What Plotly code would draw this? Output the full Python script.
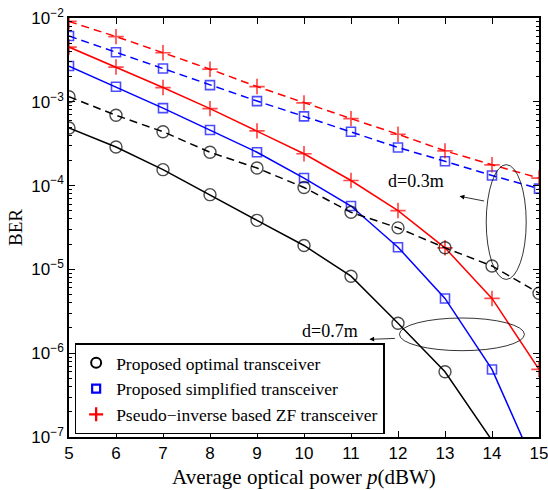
import plotly.graph_objects as go

# ---------------- data ----------------
power_dbw = [5, 6, 7, 8, 9, 10, 11, 12, 13, 14, 15]

# d = 0.7 m (solid lines)
opt_07 = [4.87e-4, 2.89e-4, 1.55e-4, 7.8e-5, 3.85e-5, 1.93e-5, 8.3e-6, 2.28e-6, 6.0e-7, 9.1e-8, None]
simp_07 = [2.67e-3, 1.51e-3, 8.4e-4, 4.6e-4, 2.5e-4, 1.23e-4, 5.7e-5, 1.84e-5, 4.5e-6, 6.4e-7, 3.5e-8]
zf_07 = [4.5e-3, 2.6e-3, 1.48e-3, 8.3e-4, 4.5e-4, 2.4e-4, 1.15e-4, 5.04e-5, 1.81e-5, 4.5e-6, 6.4e-7]

# d = 0.3 m (dashed lines)
opt_03 = [1.15e-3, 6.9e-4, 4.4e-4, 2.5e-4, 1.62e-4, 9.5e-5, 4.8e-5, 3.13e-5, 1.81e-5, 1.1e-5, 5.2e-6]
simp_03 = [6.1e-3, 3.9e-3, 2.5e-3, 1.58e-3, 1.02e-3, 6.7e-4, 4.4e-4, 2.85e-4, 1.95e-4, 1.32e-4, 9.2e-5]
zf_03 = [9.1e-3, 6.0e-3, 3.85e-3, 2.45e-3, 1.52e-3, 9.7e-4, 6.3e-4, 4.1e-4, 2.6e-4, 1.77e-4, 1.23e-4]

legend_names = ["Proposed optimal transceiver",
                "Proposed simplified transceiver",
                "Pseudo\u2212inverse based ZF transceiver"]

x_ticks = list(range(5, 16))
y_exponents = [-7, -6, -5, -4, -3, -2]
y_min = 1e-7

# ---------------- figure ----------------
fig = go.Figure()

styles = [
    dict(color="black", symbol="circle-open", size=12, lw=1.4),
    dict(color="#0000ff", symbol="square-open", size=9, lw=1.6),
    dict(color="#ff0000", symbol="cross-thin-open", size=11, lw=1.7),
]


def add_series(values, st, dash):
    sizes = [st["size"] if (v is not None and v >= y_min) else 0 for v in values]
    fig.add_trace(go.Scatter(
        x=power_dbw, y=values, mode="lines+markers", showlegend=False,
        line=dict(color=st["color"], width=1.5, dash=dash),
        marker=dict(symbol=st["symbol"], size=sizes, color=st["color"],
                    line=dict(color=st["color"], width=st["lw"])),
    ))


for vals, st in zip([opt_07, simp_07, zf_07], styles):
    add_series(vals, st, "solid")
for vals, st in zip([opt_03, simp_03, zf_03], styles):
    add_series(vals, st, "8px,5px")

# legend-only entries (markers only, as in the reference)
for i, (name, st) in enumerate(zip(legend_names, styles)):
    fig.add_trace(go.Scatter(
        x=[None], y=[None], mode="markers", name=name,
        marker=dict(symbol=st["symbol"], size=st["size"] - 2 if i == 0 else st["size"] - 1,
                    color=st["color"], line=dict(color=st["color"], width=st["lw"] + 0.6)),
    ))

minor_vals = [k * 10.0 ** e for e in range(-7, -2) for k in range(2, 10)]

serif_family = "Liberation Serif, Times New Roman, serif"

fig.update_layout(
    width=548, height=490,
    margin=dict(l=69, r=9, t=18, b=53),
    paper_bgcolor="white", plot_bgcolor="white",
    font=dict(family="Liberation Sans, Arial, sans-serif", size=17, color="black"),
    showlegend=True,
    legend=dict(
        x=0.012, y=0.006, xanchor="left", yanchor="bottom",
        bordercolor="black", borderwidth=1.5, bgcolor="white",
        font=dict(family=serif_family, size=17.5, color="black"),
        itemwidth=30,
    ),
)

fig.update_xaxes(
    range=[5, 15], tickvals=x_ticks, ticktext=[str(v) for v in x_ticks],
    ticks="inside", ticklen=6, tickwidth=1, tickcolor="black",
    showline=True, linecolor="black", linewidth=1.5, mirror="allticks",
    showgrid=False, zeroline=False, automargin=False, ticklabeloverflow="allow",
    tickfont=dict(size=17),
    title=dict(text="Average optical power <i>p</i>(dBW)",
               font=dict(family=serif_family, size=21),
               standoff=7),
)

fig.update_yaxes(
    type="log", range=[-7, -2],
    tickvals=[10.0 ** e for e in y_exponents],
    ticktext=[f"10<sup>\u2212{abs(e)}</sup>" for e in y_exponents],
    ticks="inside", ticklen=6, tickwidth=1, tickcolor="black",
    showline=True, linecolor="black", linewidth=1.5, mirror="allticks",
    showgrid=False, zeroline=False, automargin=False, ticklabeloverflow="allow",
    tickfont=dict(size=17),
    minor=dict(tickvals=minor_vals, ticks="inside", ticklen=3, tickcolor="black", showgrid=False),
    title=dict(text="BER", font=dict(family=serif_family, size=19),
               standoff=4),
)

# ellipses (paper coordinates)
fig.add_shape(type="circle", xref="paper", yref="paper",
              x0=0.8877, x1=0.9728, y0=0.376, y1=0.65,
              line=dict(color="black", width=0.8))
fig.add_shape(type="circle", xref="paper", yref="paper",
              x0=0.703, x1=0.969, y0=0.206, y1=0.284,
              line=dict(color="black", width=0.8))

serif = dict(family=serif_family, size=18, color="black")
fig.add_annotation(x=0.7387, y=0.610, xref="paper", yref="paper", text="d=0.3m",
                   showarrow=False, font=serif, xanchor="center", yanchor="middle")
fig.add_annotation(x=0.556, y=0.253, xref="paper", yref="paper", text="d=0.7m",
                   showarrow=False, font=serif, xanchor="center", yanchor="middle")
# arrows
fig.add_annotation(x=0.831, y=0.5745, xref="paper", yref="paper", text="",
                   showarrow=True, ax=26, ay=5, arrowhead=2, arrowsize=1.2,
                   arrowwidth=0.8, arrowcolor="black")
fig.add_annotation(x=0.639, y=0.233, xref="paper", yref="paper", text="",
                   showarrow=True, ax=27, ay=-1, arrowhead=2, arrowsize=1.2,
                   arrowwidth=0.8, arrowcolor="black")

fig.write_html("out.html")
